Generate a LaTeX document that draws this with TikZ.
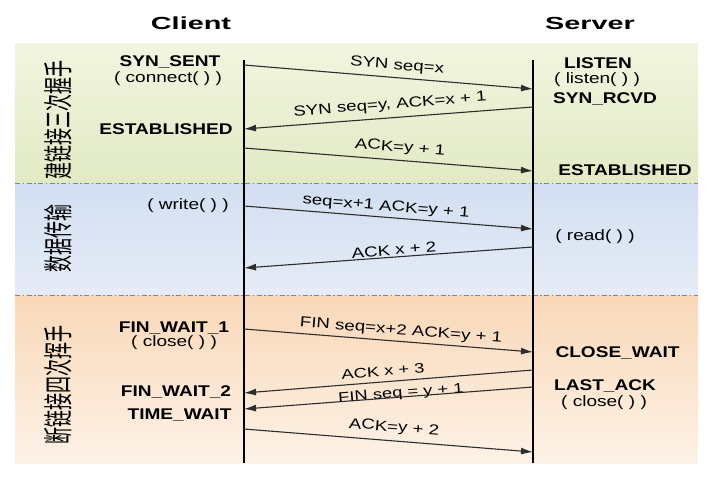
\documentclass[tikz,border=0pt]{standalone}
\usepackage{fontspec}
\setmainfont{Liberation Sans}
\newfontfamily\cjk{Noto Sans CJK SC}
\usetikzlibrary{arrows.meta}
\definecolor{bandAtop}{RGB}{241,245,224}
\definecolor{bandAbot}{RGB}{226,234,196}
\definecolor{bandBtop}{RGB}{210,223,241}
\definecolor{bandBbot}{RGB}{230,236,247}
\definecolor{bandCtop}{RGB}{249,216,184}
\definecolor{bandCbot}{RGB}{253,242,231}
\definecolor{sepcol}{RGB}{125,135,155}
\definecolor{msgcol}{RGB}{45,45,45}
\begin{document}
\begin{tikzpicture}[x=1pt,y=-1pt,
  title/.style={font=\fontsize{17.5}{20}\selectfont\bfseries, xscale=1.65, inner sep=0},
  st/.style={font=\fontsize{15.5}{18}\selectfont\bfseries, xscale=1.23, inner sep=0},
  call/.style={font=\fontsize{15}{18}\selectfont, xscale=1.27, inner sep=0},
  msglabel/.style={font=\fontsize{14.5}{17}\selectfont, xscale=1.29, inner sep=0},
  tightlabel/.style={font=\fontsize{13.8}{16}\selectfont, xscale=1.33, inner sep=0},
  phase/.style={font=\cjk\fontsize{17}{17}\selectfont, yscale=1.75, inner sep=0},
  lifeline/.style={line width=1.4pt, black},
  msg/.style={line width=1.1pt, msgcol, -{Latex[length=12pt,width=7pt]}},
  sepline/.style={line width=1pt, sepcol, dash pattern=on 5pt off 2.5pt on 1.5pt off 2.5pt}]
\useasboundingbox (0,0) rectangle (722,488);
\fill[white] (0,0) rectangle (722,488);
% bands
\fill[top color=bandAtop, bottom color=bandAbot] (15,43) rectangle (698,183);
\fill[top color=bandBtop, bottom color=bandBbot] (15,183) rectangle (698,295);
\fill[top color=bandCtop, bottom color=bandCbot] (15,295) rectangle (698,463);
% separators
\coordinate (sepAl) at (15,183); \coordinate (sepAr) at (698,183);
\coordinate (sepBl) at (15,295); \coordinate (sepBr) at (698,295);
\draw[sepline] (sepAl) -- (sepAr);
\draw[sepline] (sepBl) -- (sepBr);
% titles
\node[title] (client) at (191,23) {Client};
\node[title] (server) at (590,23) {Server};
% lifelines
\coordinate (cTop) at (244,60); \coordinate (cBot) at (244,463);
\coordinate (sTop) at (533,60); \coordinate (sBot) at (533,463);
\draw[lifeline] (cTop) -- (cBot);
\draw[lifeline] (sTop) -- (sBot);
% phase labels
\node[rotate=90, phase] (phA) at (58,120) {建链接三次握手};
\node[rotate=90, phase] (phB) at (58,238) {数据传输};
\node[rotate=90, phase] (phC) at (58,385) {断链接四次挥手};
% client states
\node[st] (cSynSent) at (170,62) {SYN\_SENT};
\node[call] (cConnect) at (168,79) {( connect( ) )};
\node[st] (cEstab) at (166,129) {ESTABLISHED};
\node[call] (cWrite) at (188,206) {( write( ) )};
\node[st] (cFin1) at (174,328) {FIN\_WAIT\_1};
\node[call] (cClose) at (174,343) {( close( ) )};
\node[st] (cFin2) at (176,392) {FIN\_WAIT\_2};
\node[st] (cTimeWait) at (179.5,415) {TIME\_WAIT};
% server states
\node[st] (sListen) at (598,63) {LISTEN};
\node[call] (sListenCall) at (597,80) {( listen( ) )};
\node[st] (sSynRcvd) at (605,99) {SYN\_RCVD};
\node[st] (sEstab) at (625,170) {ESTABLISHED};
\node[call] (sRead) at (595,237) {( read( ) )};
\node[st] (sCloseWait) at (617.5,353) {CLOSE\_WAIT};
\node[st] (sLastAck) at (605,386) {LAST\_ACK};
\node[call] (sClose) at (604,402.5) {( close( ) )};
% message end points
\coordinate (c1) at (244,65);  \coordinate (s1) at (533,89);
\coordinate (s2) at (533,107); \coordinate (c2) at (244,129);
\coordinate (c3) at (244,148); \coordinate (s3) at (533,171);
\coordinate (c4) at (244,206); \coordinate (s4) at (533,229);
\coordinate (s5) at (533,247); \coordinate (c5) at (244,268);
\coordinate (c6) at (244,329); \coordinate (s6) at (533,352);
\coordinate (s7) at (533,370); \coordinate (c7) at (244,393);
\coordinate (s8) at (533,387); \coordinate (c8) at (244,409);
\coordinate (c9) at (244,429); \coordinate (s9) at (533,452);
\draw[msg] (c1) -- (s1);
\draw[msg] (s2) -- (c2);
\draw[msg] (c3) -- (s3);
\draw[msg] (c4) -- (s4);
\draw[msg] (s5) -- (c5);
\draw[msg] (c6) -- (s6);
\draw[msg] (s7) -- (c7);
\draw[msg] (s8) -- (c8);
\draw[msg] (c9) -- (s9);
% message labels
\node[rotate=-4.5, msglabel] (m1) at (397,66) {SYN seq=x};
\node[rotate=4.5, msglabel] (m2) at (390,105) {SYN seq=y, ACK=x + 1};
\node[rotate=-4.5, msglabel] (m3) at (400,148) {ACK=y + 1};
\node[rotate=-4.5, msglabel] (m4) at (386,207) {seq=x+1 ACK=y + 1};
\node[rotate=4.5, msglabel] (m5) at (394,250) {ACK x + 2};
\node[rotate=-4.5, msglabel] (m6) at (401,331) {FIN seq=x+2 ACK=y + 1};
\node[rotate=4.5, tightlabel] (m7) at (383,371) {ACK x + 3};
\node[rotate=4.5, tightlabel] (m8) at (401,394) {FIN seq = y + 1};
\node[rotate=-4.5, msglabel] (m9) at (394,428) {ACK=y + 2};
\end{tikzpicture}
\end{document}
